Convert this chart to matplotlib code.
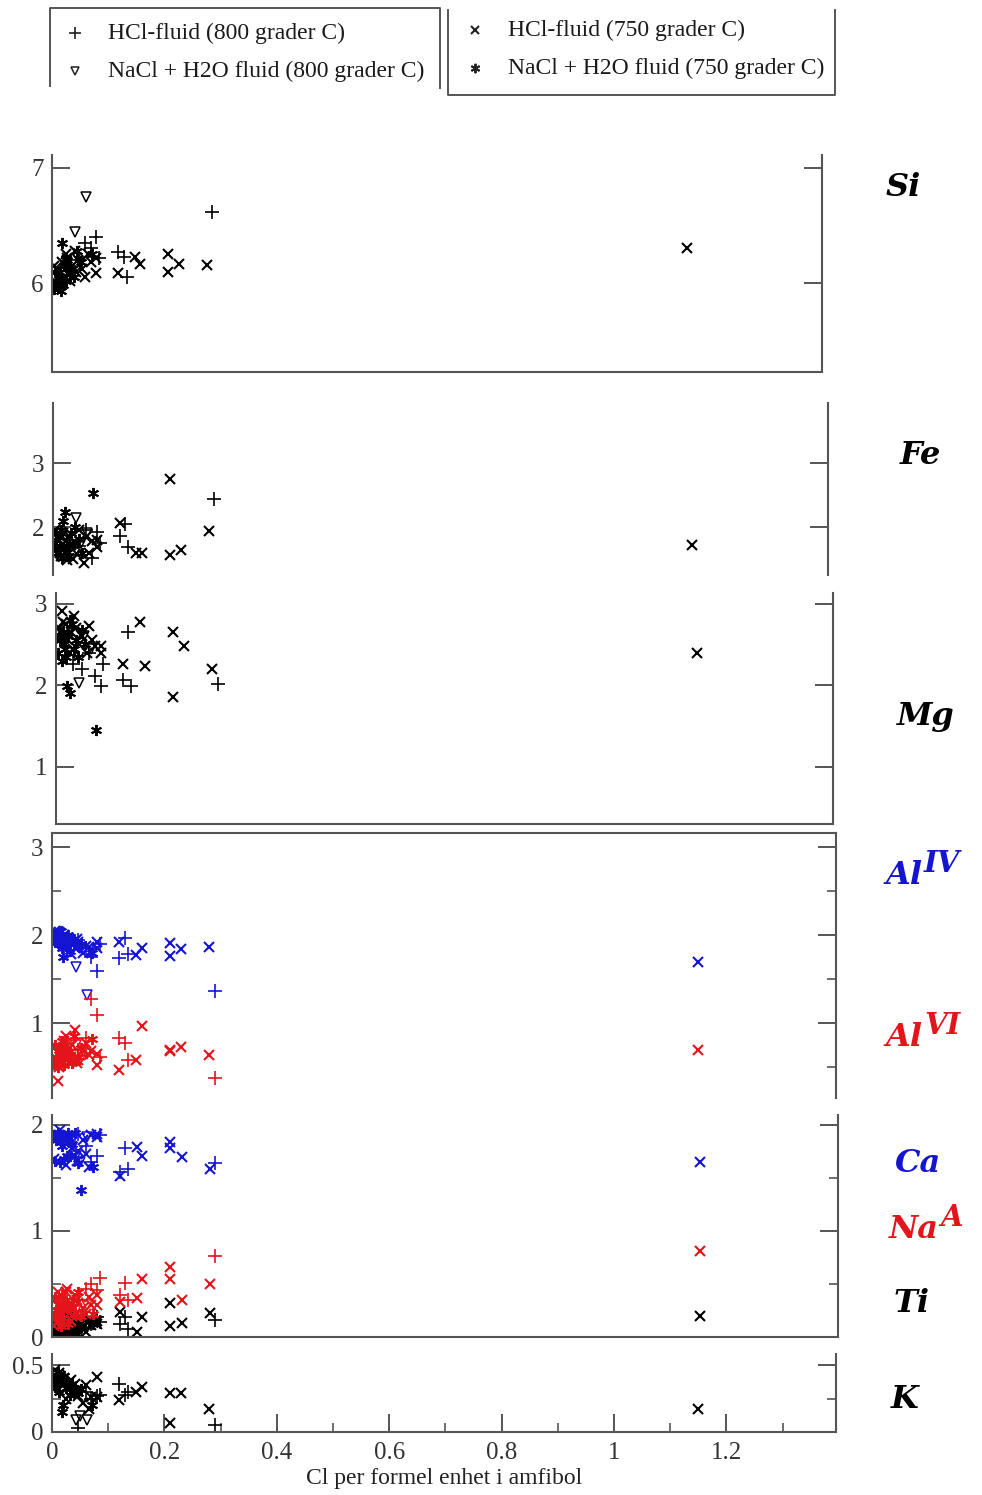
import matplotlib
matplotlib.use('Agg')
import matplotlib.pyplot as plt

W, H = 982, 1495

# Cl per formula unit and cation values, one list per run type
# HCl-fluid, 800 C  (+)
cl_hcl800 = [0.03, 0.047, 0.06, 0.07, 0.08, 0.085, 0.12, 0.13, 0.135, 0.29]
si_hcl800 = [6.15, 6.20, 6.35, 6.30, 6.40, 6.22, 6.27, 6.23, 6.05, 6.62]
fe_hcl800 = [1.80, 1.70, 1.95, 1.52, 1.92, 1.75, 1.86, 2.05, 1.69, 2.44]
mg_hcl800 = [2.26, 2.20, 2.40, 2.11, 1.99, 2.26, 2.06, 2.65, 1.99, 2.01]
al4_hcl800 = [1.96, 1.94, 1.85, 1.75, 1.59, 1.90, 1.74, 1.97, 1.78, 1.37]
al6_hcl800 = [0.60, 0.70, 0.83, 1.28, 1.09, 0.62, 0.83, 0.77, 0.58, 0.38]
ca_hcl800 = [1.85, 1.91, 1.80, 1.65, 1.70, 1.90, 1.55, 1.78, 1.58, 1.64]
na_hcl800 = [0.30, 0.35, 0.45, 0.50, 0.44, 0.56, 0.40, 0.51, 0.35, 0.76]
ti_hcl800 = [0.10, 0.08, 0.15, 0.12, 0.19, 0.14, 0.12, 0.19, 0.08, 0.16]
k_hcl800 = [0.35, 0.03, 0.30, 0.25, 0.27, 0.28, 0.36, 0.28, 0.30, 0.05]

# NaCl + H2O fluid, 800 C  (triangles)
cl_nacl800 = [0.042, 0.062, 0.05]
si_nacl800 = [6.44, 6.75, 6.18]
fe_nacl800 = [2.14, 1.90, 1.75]
mg_nacl800 = [2.03, 2.45, 2.60]
al4_nacl800 = [1.64, 1.32, 1.85]
al6_nacl800 = [0.75, 0.65, 0.58]
ca_nacl800 = [1.70, 1.88, 1.65]
na_nacl800 = [0.25, 0.30, 0.20]
ti_nacl800 = [0.08, 0.12, 0.05]
k_nacl800 = [0.09, 0.09, 0.12]

# HCl-fluid, 750 C  (x)
cl_hcl750 = [0.006, 0.010, 0.014, 0.018, 0.022, 0.027, 0.031, 0.036, 0.041, 0.047, 0.055, 0.065,
             0.003, 0.013, 0.025, 0.033, 0.044, 0.060, 0.070,
             0.08, 0.08, 0.12, 0.15, 0.16, 0.21, 0.21, 0.23, 0.28, 1.15]
si_hcl750 = [6.02, 6.12, 6.08, 6.18, 6.05, 6.22, 6.10, 6.15, 6.28, 6.20, 6.12, 6.25,
             6.15, 5.98, 6.25, 6.02, 6.10, 6.05, 6.18,
             6.22, 6.09, 6.09, 6.23, 6.17, 6.25, 6.10, 6.17, 6.16, 6.30]
fe_hcl750 = [1.65, 1.80, 1.55, 1.90, 1.70, 1.62, 1.85, 1.50, 1.75, 1.95, 1.44, 1.60,
             1.95, 1.60, 1.48, 1.72, 1.58, 1.85, 1.78,
             1.80, 1.69, 2.06, 1.59, 1.59, 2.75, 1.56, 1.64, 1.94, 1.72]
mg_hcl750 = [2.70, 2.91, 2.60, 2.75, 2.55, 2.65, 2.45, 2.70, 2.50, 2.60, 2.40, 2.55,
             2.55, 2.78, 2.40, 2.85, 2.62, 2.72, 2.48,
             2.48, 2.40, 2.26, 2.77, 2.23, 2.65, 1.85, 2.48, 2.20, 2.39]
al4_hcl750 = [2.05, 1.98, 2.02, 1.95, 2.00, 1.88, 1.96, 1.90, 1.85, 1.92, 1.80, 1.86,
              1.90, 2.04, 1.86, 1.78, 1.96, 1.88, 1.82,
              1.92, 1.85, 1.92, 1.77, 1.85, 1.91, 1.76, 1.84, 1.86, 1.69]
al6_hcl750 = [0.60, 0.34, 0.72, 0.55, 0.80, 0.66, 0.62, 0.75, 0.92, 0.58, 0.70, 0.64,
              0.72, 0.50, 0.85, 0.62, 0.55, 0.78, 0.68,
              0.65, 0.52, 0.47, 0.58, 0.97, 0.70, 0.68, 0.73, 0.64, 0.70]
ca_hcl750 = [1.92, 1.88, 1.95, 1.85, 1.90, 1.82, 1.88, 1.78, 1.70, 1.75, 1.85, 1.60,
             1.68, 1.90, 1.62, 1.86, 1.66, 1.72, 1.90,
             1.91, 1.88, 1.52, 1.79, 1.70, 1.84, 1.78, 1.69, 1.58, 1.65]
na_hcl750 = [0.35, 0.42, 0.28, 0.38, 0.25, 0.45, 0.30, 0.20, 0.40, 0.32, 0.27, 0.38,
             0.10, 0.30, 0.42, 0.15, 0.35, 0.22, 0.30,
             0.40, 0.30, 0.33, 0.37, 0.55, 0.66, 0.55, 0.35, 0.50, 0.81]
ti_hcl750 = [0.12, 0.05, 0.18, 0.08, 0.15, 0.03, 0.20, 0.10, 0.06, 0.14, 0.09, 0.16,
             0.02, 0.10, 0.07, 0.12, 0.17, 0.05, 0.11,
             0.15, 0.12, 0.24, 0.05, 0.19, 0.32, 0.10, 0.13, 0.23, 0.20]
k_hcl750 = [0.46, 0.38, 0.42, 0.35, 0.40, 0.33, 0.37, 0.30, 0.36, 0.27, 0.22, 0.17,
            0.32, 0.44, 0.25, 0.39, 0.31, 0.35, 0.26,
            0.41, 0.265, 0.24, 0.30, 0.34, 0.295, 0.07, 0.295, 0.17, 0.17]

# NaCl + H2O fluid, 750 C  (asterisks)
cl_nacl750 = [0.004, 0.007, 0.010, 0.012, 0.015, 0.018, 0.020, 0.022, 0.025, 0.028, 0.032, 0.036,
              0.006, 0.016, 0.026, 0.040, 0.046, 0.052, 0.072]
si_nacl750 = [5.95, 6.00, 5.97, 6.05, 6.10, 6.35, 5.98, 6.15, 6.02, 6.20, 6.08, 6.12,
              6.10, 5.93, 6.22, 6.05, 6.28, 6.18, 6.25]
fe_nacl750 = [1.75, 1.60, 1.85, 1.70, 1.95, 2.10, 1.65, 2.23, 1.80, 1.55, 1.90, 1.72,
              1.90, 1.52, 1.68, 2.00, 1.82, 1.60, 2.53]
mg_nacl750 = [2.40, 2.55, 2.30, 2.65, 2.50, 2.35, 1.99, 2.60, 1.91, 2.75, 2.45, 2.55,
              2.62, 2.45, 2.80, 2.35, 2.68, 2.50, 1.45]
al4_nacl750 = [2.00, 1.95, 2.02, 1.90, 1.98, 1.85, 1.75, 1.92, 1.88, 2.00, 1.82, 1.95,
               1.92, 2.05, 1.85, 1.96, 1.88, 1.90, 1.80]
al6_nacl750 = [0.55, 0.62, 0.50, 0.70, 0.58, 0.80, 0.65, 0.52, 0.75, 0.60, 0.68, 0.55,
               0.75, 0.60, 0.66, 0.85, 0.62, 0.72, 0.82]
ca_nacl750 = [1.90, 1.85, 1.92, 1.88, 1.65, 1.80, 1.90, 1.68, 1.86, 1.92, 1.70, 1.82,
              1.66, 1.88, 1.70, 1.92, 1.64, 1.38, 1.60]
na_nacl750 = [0.20, 0.25, 0.15, 0.30, 0.22, 0.40, 0.18, 0.28, 0.35, 0.12, 0.26, 0.32,
              0.38, 0.10, 0.30, 0.24, 0.42, 0.20, 0.22]
ti_nacl750 = [0.05, 0.10, 0.02, 0.15, 0.08, 0.12, 0.03, 0.18, 0.06, 0.10, 0.14, 0.04,
              0.14, 0.07, 0.20, 0.02, 0.10, 0.09, 0.12]
k_nacl750 = [0.40, 0.35, 0.45, 0.30, 0.38, 0.15, 0.20, 0.42, 0.33, 0.37, 0.28, 0.36,
             0.34, 0.41, 0.37, 0.33, 0.29, 0.32, 0.20]

legend_labels = ['HCl-fluid (800 grader C)', 'NaCl + H2O fluid (800 grader C)',
                 'HCl-fluid (750 grader C)', 'NaCl + H2O fluid (750 grader C)']
x_ticks = [0, 0.2, 0.4, 0.6, 0.8, 1.0, 1.2]
x_tick_labels = ['0', '0.2', '0.4', '0.6', '0.8', '1', '1.2']

BLUE = '#1414d2'
RED = '#e3141a'
SPINE = '#555555'

runs = {
    'hcl800': dict(cl=cl_hcl800, Si=si_hcl800, Fe=fe_hcl800, Mg=mg_hcl800, AlIV=al4_hcl800,
                   AlVI=al6_hcl800, Ca=ca_hcl800, Na=na_hcl800, Ti=ti_hcl800, K=k_hcl800),
    'nacl800': dict(cl=cl_nacl800, Si=si_nacl800, Fe=fe_nacl800, Mg=mg_nacl800, AlIV=al4_nacl800,
                    AlVI=al6_nacl800, Ca=ca_nacl800, Na=na_nacl800, Ti=ti_nacl800, K=k_nacl800),
    'hcl750': dict(cl=cl_hcl750, Si=si_hcl750, Fe=fe_hcl750, Mg=mg_hcl750, AlIV=al4_hcl750,
                   AlVI=al6_hcl750, Ca=ca_hcl750, Na=na_hcl750, Ti=ti_hcl750, K=k_hcl750),
    'nacl750': dict(cl=cl_nacl750, Si=si_nacl750, Fe=fe_nacl750, Mg=mg_nacl750, AlIV=al4_nacl750,
                    AlVI=al6_nacl750, Ca=ca_nacl750, Na=na_nacl750, Ti=ti_nacl750, K=k_nacl750),
}
run_order = ['hcl800', 'nacl800', 'hcl750', 'nacl750']

marker_style = {
    'hcl800': dict(marker='+', markersize=10, markeredgewidth=1.2),
    'nacl800': dict(marker='v', markersize=7, markeredgewidth=1.1, markerfacecolor='none'),
    'hcl750': dict(marker='x', markersize=7, markeredgewidth=1.5),
    'nacl750': dict(marker=(6, 2, 0), markersize=8, markeredgewidth=1.4),
}

plt.rcParams['font.family'] = ['Liberation Serif', 'DejaVu Serif']

fig = plt.figure(figsize=(W / 100, H / 100), dpi=100)


def px_axes(left, top, right, bottom):
    return fig.add_axes([left / W, 1 - bottom / H, (right - left) / W, (bottom - top) / H])


# (elements with colour, box in pixels, y-limits, major ticks, minor ticks, visible spines)
panels = [
    ([('Si', 'black')], (52, 155, 822, 372), (5.23, 7.11), [6, 7], [], ('left', 'right', 'bottom')),
    ([('Fe', 'black')], (53, 403, 828, 575), (1.25, 3.94), [2, 3], [], ('left', 'right')),
    ([('Mg', 'black')], (56, 593, 833, 824), (0.30, 3.13), [1, 2, 3], [], ('left', 'right', 'bottom')),
    ([('AlIV', BLUE), ('AlVI', RED)], (52, 833, 836, 1098), (0.15, 3.16), [1, 2, 3], [0.5, 1.5, 2.5],
     ('left', 'right', 'top')),
    ([('Ti', 'black'), ('Na', RED), ('Ca', BLUE)], (52, 1115, 838, 1337), (0, 2.09), [0, 1, 2], [0.5, 1.5],
     ('left', 'right', 'bottom')),
    ([('K', 'black')], (52, 1354, 836, 1432), (0, 0.583), [0, 0.5], [0.25], ('left', 'right', 'bottom')),
]

for i, (elements, box, ylim, major, minor, spines) in enumerate(panels):
    ax = px_axes(*box)
    ax.patch.set_alpha(0)
    ax.set_xlim(0, 1.395)
    ax.set_ylim(*ylim)
    for side, sp in ax.spines.items():
        sp.set_visible(side in spines)
        sp.set_color(SPINE)
        sp.set_linewidth(1.5)
    for key, col in elements:
        for run in run_order:
            ax.plot(runs[run]['cl'], runs[run][key], linestyle='none', color=col, **marker_style[run])
    ax.set_yticks(major)
    ax.set_yticks(minor, minor=True)
    ax.set_yticklabels([f'{v:g}' for v in major])
    ax.tick_params(axis='y', which='both', direction='in', left=True, right=True,
                   labelleft=True, labelright=False, color=SPINE, labelcolor='#333333',
                   labelsize=18, pad=6)
    ax.tick_params(axis='y', which='major', length=13, width=1.4)
    ax.tick_params(axis='y', which='minor', length=6.5, width=1.2)
    if i == len(panels) - 1:
        ax.set_xticks(x_ticks)
        ax.set_xticklabels(x_tick_labels)
        ax.set_xticks([0.1, 0.3, 0.5, 0.7, 0.9, 1.1, 1.3], minor=True)
        ax.tick_params(axis='x', which='both', direction='in', bottom=True, top=False,
                       color=SPINE, labelcolor='#333333', labelsize=18, pad=7)
        ax.tick_params(axis='x', which='major', length=13, width=1.4)
        ax.tick_params(axis='x', which='minor', length=6.5, width=1.2)
        ax.set_xlabel('Cl per formel enhet i amfibol', fontsize=17, color='#222222', labelpad=3)
    else:
        ax.set_xticks([])

# overlay in pixel units for the legend boxes and the element names
lay = fig.add_axes([0, 0, 1, 1])
lay.set_xlim(0, W)
lay.set_ylim(H, 0)
lay.axis('off')
lay.patch.set_alpha(0)

lay.plot([50, 50, 440, 440], [86, 8, 8, 88], color=SPINE, lw=1.4)
lay.plot([448, 448, 835, 835], [10, 95, 95, 10], color=SPINE, lw=1.4)
legend_pos = [(75, 33), (75, 71), (475, 30), (475, 68)]
for run, label, (lx, ly) in zip(run_order, legend_labels, legend_pos):
    style = dict(marker_style[run])
    style['markersize'] = style['markersize'] * 0.85
    lay.plot(lx, ly, linestyle='none', color='#222222', **style)
    lay.text(lx + 33, ly, label, fontsize=17, va='center', ha='left', color='#1a1a1a')

name_font = dict(family=['DejaVu Serif'], fontweight='bold', style='italic', fontsize=23)
lay.text(903, 188, 'Si', ha='center', va='center', color='black', **name_font)
lay.text(920, 455, 'Fe', ha='center', va='center', color='black', **name_font)
lay.text(926, 717, 'Mg', ha='center', va='center', color='black', **name_font)
lay.text(918, 1163, 'Ca', ha='center', va='center', color=BLUE, **name_font)
lay.text(912, 1304, 'Ti', ha='center', va='center', color='black', **name_font)
lay.text(905, 1400, 'K', ha='center', va='center', color='black', **name_font)

sup_font = dict(name_font, fontsize=21)
for base, sup, x0, y0, col in [('Al', 'IV', 886, 876, BLUE), ('Al', 'VI', 886, 1038, RED),
                               ('Na', 'A', 889, 1230, RED)]:
    t = lay.text(x0, y0, base, ha='left', va='center', color=col, **name_font)
    fig.canvas.draw()
    bb = t.get_window_extent()
    lay.text(x0 + bb.width + 1, y0 - 12, sup, ha='left', va='center', color=col, **sup_font)

fig.savefig('out.png', dpi=100)
